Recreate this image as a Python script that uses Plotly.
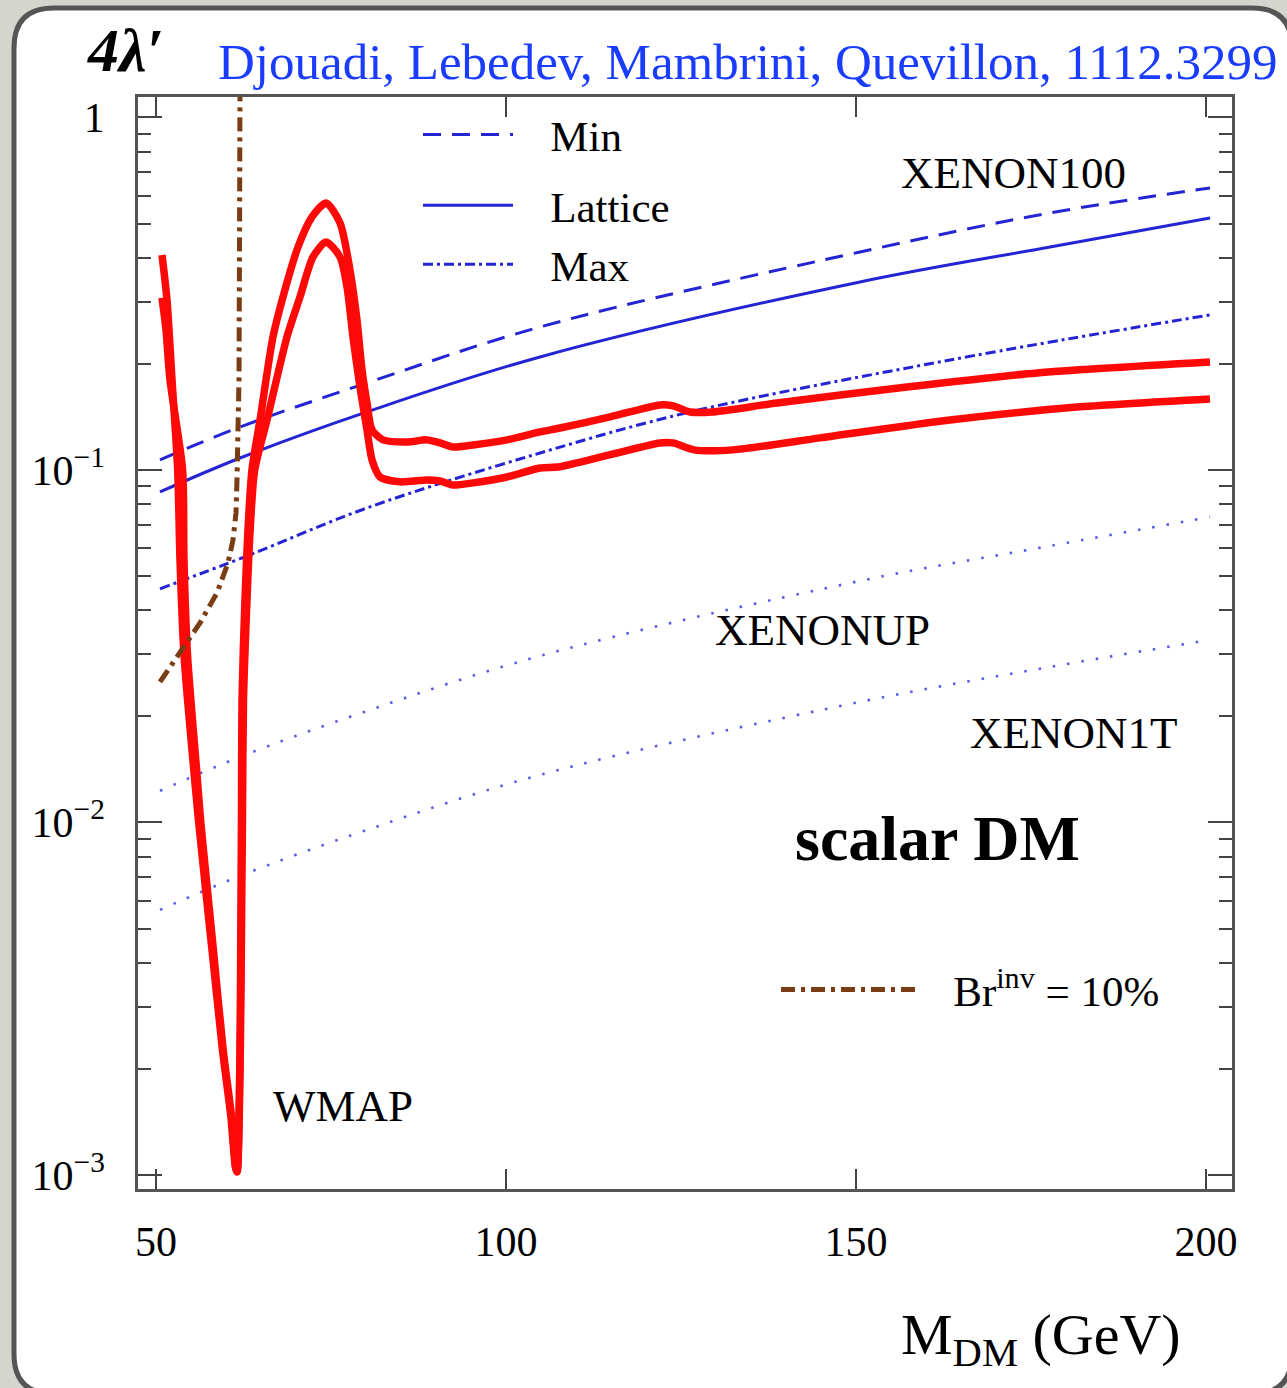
import plotly.graph_objects as go

# ---------------- data ----------------
mdm_red_upper = [50.86, 51.57, 52.29, 53.1, 53.43, 54.0, 55.4, 56.1, 57.1, 58.0, 59.5, 60.7, 61.35,
                 61.57, 62.0, 62.14, 62.21, 62.29, 62.71, 63.14, 63.71, 64.86, 66.71, 68.14, 70.29, 72.29,
                 74.29, 76.29, 77.71, 78.71, 79.43, 80.14, 80.86, 82.43, 85.86, 88.71, 90.57, 92.43, 95.29,
                 100.14, 104.86, 107.71, 114.86, 122.0, 123.86, 126.29, 129.43, 138.71, 157.29, 175.86, 200.57]
lam_red_upper = [0.407, 0.304, 0.180, 0.100, 0.0556, 0.0299, 0.0141, 0.0100, 0.00643, 0.00435,
                 0.00226, 0.00146, 0.00105, 0.00102, 0.00226, 0.00603, 0.0100, 0.0223, 0.0428, 0.0676,
                 0.100, 0.1386, 0.2384, 0.3096, 0.429, 0.522, 0.572, 0.502, 0.369, 0.2665, 0.1922, 0.1549,
                 0.1299, 0.1217, 0.120, 0.1217, 0.1193, 0.1162, 0.1177, 0.1217, 0.1282, 0.1315, 0.1414,
                 0.1529, 0.152, 0.146, 0.146, 0.1549, 0.172, 0.1885, 0.2024]

mdm_red_lower = [50.86, 51.43, 52.0, 53.8, 54.0, 54.5, 55.8, 56.4, 57.35, 58.2, 59.6, 60.8, 61.4,
                 61.6, 62.05, 62.25, 62.35, 62.5, 63.0, 63.45, 64.1, 65.86, 68.71, 70.57, 72.43, 74.29,
                 76.29, 77.29, 78.14, 79.14, 80.14, 80.86, 82.0, 84.86, 88.71, 90.57, 92.43, 95.29, 100.14,
                 104.86, 107.71, 122.0, 123.86, 126.86, 132.43, 144.86, 163.43, 182.0, 200.57]
lam_red_lower = [0.308, 0.2496, 0.180, 0.100, 0.0556, 0.0299, 0.0141, 0.0100, 0.00643, 0.00435,
                 0.00226, 0.00146, 0.00105, 0.00102, 0.00226, 0.00603, 0.0100, 0.0223, 0.0428, 0.0676,
                 0.100, 0.1386, 0.2384, 0.3096, 0.402, 0.443, 0.402, 0.3304, 0.2384, 0.172, 0.1299,
                 0.1068, 0.0955, 0.0925, 0.0937, 0.0931, 0.0906, 0.0919, 0.0955, 0.1013, 0.1021, 0.1193,
                 0.1193, 0.114, 0.114, 0.1233, 0.1386, 0.151, 0.159]

mdm_xenon = [50.57, 62.0, 80.14, 104.86, 150.57, 177.71, 200.57]
lam_min = [0.1068, 0.1324, 0.1765, 0.2544, 0.4153, 0.5359, 0.631]
lam_lattice = [0.0866, 0.1081, 0.1461, 0.2092, 0.3414, 0.429, 0.5187]
lam_xenonup = [0.01229, 0.01534, 0.02071, 0.02967, 0.04843, 0.06086, 0.07356]
lam_xenon1t = [0.005646, 0.007051, 0.009522, 0.01364, 0.02197, 0.02761, 0.03294]

mdm_max = [50.57, 63.0, 80.14, 104.86, 126.29, 163.43, 200.57]
lam_max = [0.046, 0.057, 0.078, 0.1117, 0.146, 0.2051, 0.2753]

mdm_br = [50.57, 53.43, 56.29, 58.71, 60.29, 61.0, 61.43, 61.57, 61.71, 61.86, 61.93, 62.0]
lam_br = [0.02504, 0.03027, 0.03681, 0.04478, 0.05448, 0.06329, 0.07551, 0.0937, 0.1451, 0.180, 0.4208, 1.2]

x_tickvals = [50, 100, 150, 200]
y_tickvals = [0.001, 0.01, 0.1, 1]
y_ticktext = ["10<sup>\u22123</sup>", "10<sup>\u22122</sup>", "10<sup>\u22121</sup>", "1"]

# ---------------- layout helpers (pixels -> paper) ----------------
W, H = 1287, 1388
L, R, T, B = 138, 1232, 97, 1189
PW, PH = R - L, B - T


def px(xp):
    return (xp - L) / PW


def py(yp):
    return (B - yp) / PH


SERIF = "Liberation Serif"
BLUE = "#2424d4"
RED = "#ff0808"
BROWN = "#7a3c12"
NB = "\u00a0"

fig = go.Figure()

# dotted projections
for lam in (lam_xenonup, lam_xenon1t):
    fig.add_trace(go.Scatter(x=mdm_xenon, y=lam, mode="lines", showlegend=False,
                             line=dict(color="#5a5ae6", width=2.6, dash="2.5px,12px", shape="spline")))

fig.add_trace(go.Scatter(x=mdm_xenon, y=lam_min, mode="lines", name=NB * 3 + "Min", legend="legend",
                         legendgroup="a",
                         line=dict(color=BLUE, width=3, dash="18px,11px", shape="spline")))
fig.add_trace(go.Scatter(x=mdm_xenon, y=lam_lattice, mode="lines", name=NB * 3 + "Lattice", legend="legend",
                         legendgroup="b",
                         line=dict(color=BLUE, width=3, shape="spline")))
fig.add_trace(go.Scatter(x=mdm_max, y=lam_max, mode="lines", name=NB * 3 + "Max", legend="legend",
                         legendgroup="b",
                         line=dict(color=BLUE, width=3, dash="10px,4px,3px,4px", shape="spline")))

fig.add_trace(go.Scatter(x=mdm_red_upper, y=lam_red_upper, mode="lines", showlegend=False,
                         line=dict(color=RED, width=7.5, shape="spline", smoothing=0.7)))
fig.add_trace(go.Scatter(x=mdm_red_lower, y=lam_red_lower, mode="lines", showlegend=False,
                         line=dict(color=RED, width=7.5, shape="spline", smoothing=0.7)))

fig.add_trace(go.Scatter(x=mdm_br, y=lam_br, mode="lines", name=NB * 3 + "Br<sup>inv</sup> = 10%",
                         legend="legend2",
                         line=dict(color=BROWN, width=5, dash="14px,6px,4px,6px")))

# rounded white panel
rad = 40
x0, x1, y0, y1 = 14, 1292, 8, 1394
rx, ry = rad / PW, rad / PH
Lp, Rp, Tp, Bp = px(x0), px(x1), py(y0), py(y1)
path = (f"M {Lp+rx},{Tp} L {Rp-rx},{Tp} Q {Rp},{Tp} {Rp},{Tp-ry} L {Rp},{Bp+ry} "
        f"Q {Rp},{Bp} {Rp-rx},{Bp} L {Lp+rx},{Bp} Q {Lp},{Bp} {Lp},{Bp+ry} "
        f"L {Lp},{Tp-ry} Q {Lp},{Tp} {Lp+rx},{Tp} Z")
fig.add_shape(type="path", path=path, xref="paper", yref="paper", layer="below",
              fillcolor="white", line=dict(color="#555555", width=5))

ann = []


def text(xp, yp, s, size, color="black", xanchor="center", family=SERIF):
    ann.append(dict(x=px(xp), y=py(yp), xref="paper", yref="paper", text=s, showarrow=False,
                    xanchor=xanchor, yanchor="middle", font=dict(family=family, size=size, color=color)))


text(125, 50, "<b><i>4\u03bb\u2032</i></b>", 62)
text(216, 62, "Djouadi, Lebedev, Mambrini, Quevillon, 1112.3299", 51, color="#1a3cff", xanchor="left")
text(1013, 173, "XENON100", 45)
text(822, 630, "XENONUP", 45)
text(1073, 733, "XENON1T", 45)
text(343, 1106, "WMAP", 45)
text(937, 838, "<b>scalar DM</b>", 64)
text(1183, 1338, "M<sub>DM</sub> (GeV)", 58, xanchor="right")

fig.update_layout(
    width=W, height=H,
    margin=dict(l=L, r=W - R, t=T, b=H - B),
    paper_bgcolor="#d5d5d0", plot_bgcolor="white",
    annotations=ann,
    showlegend=True,
    legend=dict(x=px(418), y=py(100), xanchor="left", yanchor="top", bgcolor="rgba(0,0,0,0)",
                font=dict(family=SERIF, size=43, color="black"), itemwidth=90,
                tracegroupgap=12, traceorder="grouped"),
    legend2=dict(x=px(776), y=py(955), xanchor="left", yanchor="top", bgcolor="rgba(0,0,0,0)",
                 font=dict(family=SERIF, size=43, color="black"), itemwidth=135),
)

fig.update_xaxes(range=[47.43, 203.71], tickvals=x_tickvals, ticks="inside", ticklen=20, tickwidth=1.5,
                 tickcolor="#444", showline=True, linecolor="#555", linewidth=2.5, mirror="allticks",
                 showgrid=False, zeroline=False, ticklabelstandoff=14,
                 tickfont=dict(family=SERIF, size=42, color="black"))
fig.update_yaxes(type="log", range=[-3.04, 0.058], tickvals=y_tickvals, ticktext=y_ticktext,
                 ticks="inside", ticklen=24, tickwidth=1.5, tickcolor="#444",
                 minor=dict(ticks="inside", ticklen=13, tickwidth=1.5, tickcolor="#444", dtick="D1",
                            showgrid=False),
                 showline=True, linecolor="#555", linewidth=2.5, mirror="allticks",
                 showgrid=False, zeroline=False, ticklabelstandoff=22,
                 tickfont=dict(family=SERIF, size=42, color="black"))

fig.write_html("out.html")
